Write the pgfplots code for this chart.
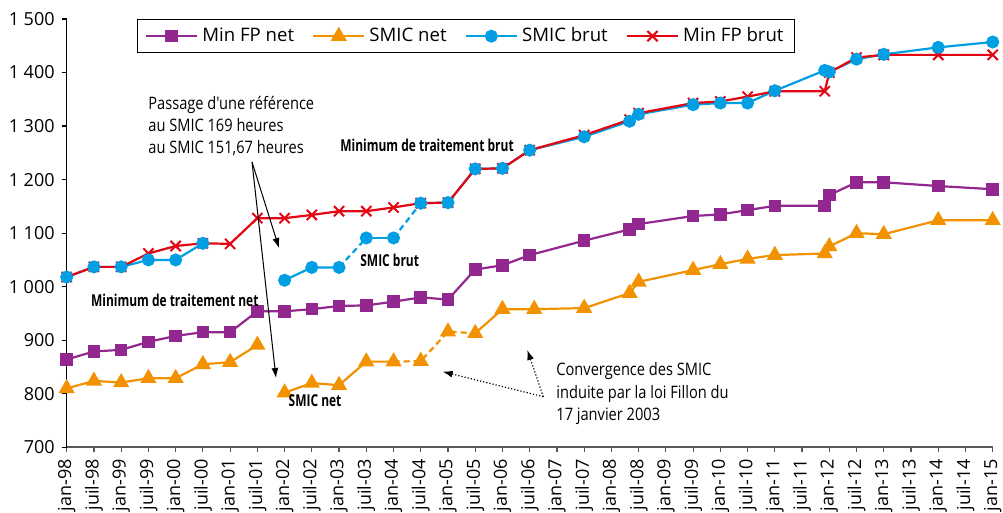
\documentclass[border=0pt]{standalone}
\usepackage{pgfplots}
\pgfplotsset{compat=1.18}
\usepackage{pgfplotstable}
\usepackage{fontspec}
\usetikzlibrary{arrows.meta}
\setmainfont{Open Sans}
\newfontfamily\cond[FakeStretch=0.85]{Open Sans}
\newfontfamily\condb[FakeStretch=0.73]{Open Sans}

\definecolor{cpurple}{RGB}{146,39,143}
\definecolor{corange}{RGB}{243,146,0}
\definecolor{cblue}{RGB}{0,159,227}
\definecolor{cred}{RGB}{227,6,19}

% month index: 0 = jan-98
\pgfplotstableread{
m v
0 864
6 879
12 882
18 897
24 908
30 915
36 915
42 954
48 954
54 958
60 964
66 965
72 972
78 980
84 976
90 1032
96 1040
102 1059
114 1086
124 1107
126 1117
138 1132
144 1135
150 1143
156 1151
167 1151
168 1171
174 1195
180 1195
192 1188
204 1182
}\minnet

\pgfplotstableread{
m v
0 810
6 824
12 821
18 829
24 829
30 855
36 859
42 891
48 802
54 820
60 816
66 860
72 860
78 861
84 916
90 913
96 958
103 958
114 960
124 988
126 1009
138 1031
144 1042
150 1052
156 1059
167 1062
168 1075
174 1100
180 1098
192 1124
204 1124
}\smicnet

\pgfplotstableread{
m v
0 1018
6 1037
12 1037
18 1050
24 1050
30 1081
48 1012
54 1036
60 1036
66 1091
72 1091
78 1156
84 1157
90 1220
96 1221
102 1255
114 1280
124 1309
126 1322
138 1340
144 1343
150 1343
156 1366
167 1404
168 1401
174 1425
180 1434
192 1447
204 1457
}\smicbrut

\pgfplotstableread{
m v
0 1018
6 1037
12 1037
18 1062
24 1076
30 1081
36 1080
42 1128
48 1128
54 1134
60 1141
66 1141
72 1148
78 1156
84 1157
90 1220
96 1221
102 1255
114 1283
124 1312
126 1324
138 1343
144 1346
150 1355
156 1365
167 1365
168 1400
174 1428
180 1433
192 1433
204 1433
}\minbrut

\begin{document}
\begin{tikzpicture}
\useasboundingbox (-33.35pt,-32.85pt) rectangle (468.15pt,223.65pt);
\begin{axis}[
  scale only axis, width=463pt, height=214.15pt,
  xmin=0, xmax=204, ymin=700, ymax=1500,
  axis x line*=bottom, axis y line*=left,
  x axis line style={black!65, line width=0.8pt},
  y axis line style={black, line width=0.6pt},
  tick align=outside, major tick length=2.5pt,
  xtick={0,6,...,204},
  xticklabels={jan-98,juil-98,jan-99,juil-99,jan-00,juil-00,jan-01,juil-01,jan-02,juil-02,jan-03,juil-03,jan-04,juil-04,jan-05,juil-05,jan-06,juil-06,jan-07,juil-07,jan-08,juil-08,jan-09,juil-09,jan-10,juil-10,jan-11,juil-11,jan-12,juil-12,jan-13,juil-13,jan-14,juil-14,jan-15},
  xticklabel style={rotate=90, anchor=east, font=\fontsize{9}{10}\selectfont},
  x tick style={black!65, line width=0.6pt},
  ytick={700,800,...,1500},
  yticklabel style={font=\fontsize{9}{10}\selectfont},
  y tick style={black, line width=0.6pt},
  /pgf/number format/assume math mode=true,
  /pgf/number format/1000 sep={\ },
  legend columns=4,
  legend style={at={(rel axis cs:0.0762,1)}, anchor=north west, draw=black, line width=0.6pt,
    font=\fontsize{9.3}{11}\selectfont, inner xsep=3.5pt, inner ysep=2pt,
    /tikz/every even column/.append style={column sep=7pt}},
  legend image code/.code={\draw[mark repeat=2,mark phase=2] plot coordinates {(0cm,0cm) (0.45cm,0cm) (0.9cm,0cm)};},
  every axis plot/.append style={line width=1.1pt},
]
\addlegendimage{cpurple, mark=square*, mark size=2.6pt}
\addlegendentry{Min FP net}
\addlegendimage{corange, mark=triangle*, mark size=3.6pt}
\addlegendentry{SMIC net}
\addlegendimage{cblue, mark=*, mark size=2.7pt}
\addlegendentry{SMIC brut}
\addlegendimage{cred, mark=x, mark size=3.6pt, mark options={line width=1pt}}
\addlegendentry{Min FP brut}

% Min FP net
\addplot[cpurple, mark=square*, mark size=2.6pt, forget plot] table[x=m,y=v] {\minnet};
% SMIC net: lines by piece, then marks
\addplot[corange, forget plot, restrict x to domain=0:42] table[x=m,y=v] {\smicnet};
\addplot[corange, forget plot, restrict x to domain=48:72] table[x=m,y=v] {\smicnet};
\addplot[corange, forget plot, dash pattern=on 3pt off 2pt, restrict x to domain=72:90] table[x=m,y=v] {\smicnet};
\addplot[corange, forget plot, restrict x to domain=90:204] table[x=m,y=v] {\smicnet};
\addplot[corange, only marks, mark=triangle*, mark size=3.6pt, forget plot] table[x=m,y=v] {\smicnet};
% SMIC brut lines
\addplot[cblue, forget plot, restrict x to domain=0:30] table[x=m,y=v] {\smicbrut};
\addplot[cblue, forget plot, restrict x to domain=48:60] table[x=m,y=v] {\smicbrut};
\addplot[cblue, forget plot, dash pattern=on 3pt off 2pt, restrict x to domain=60:66] table[x=m,y=v] {\smicbrut};
\addplot[cblue, forget plot, restrict x to domain=66:72] table[x=m,y=v] {\smicbrut};
\addplot[cblue, forget plot, dash pattern=on 3pt off 2pt, restrict x to domain=72:78] table[x=m,y=v] {\smicbrut};
\addplot[cblue, forget plot, restrict x to domain=78:204] table[x=m,y=v] {\smicbrut};
% Min FP brut
\addplot[cred, mark=x, mark size=3.6pt, mark options={line width=1pt}, forget plot] table[x=m,y=v] {\minbrut};
% SMIC brut marks on top
\addplot[cblue, only marks, mark=*, mark size=2.7pt, forget plot] table[x=m,y=v] {\smicbrut};
\end{axis}

\begin{scope}[shift={(-33.35pt,223.65pt)}, x=0.5pt, y=-0.5pt]
  \def\annfont{\cond\fontsize{8.6}{10}\selectfont}
  \def\lblfont{\condb\bfseries\fontsize{8.2}{10}\selectfont}
  \node[anchor=base west, inner sep=0pt, font=\annfont] at (148,110) {Passage d'une référence};
  \node[anchor=base west, inner sep=0pt, font=\annfont] at (148,132) {au SMIC 169 heures};
  \node[anchor=base west, inner sep=0pt, font=\annfont] at (148,154) {au SMIC 151,67 heures};
  \draw[line width=0.5pt, -{Latex[length=5pt,width=3.5pt]}] (252,162) -- (279,248);
  \draw[line width=0.5pt, -{Latex[length=5pt,width=3.5pt]}] (252,162) -- (276,378);
  \node[anchor=base west, inner sep=0pt, font=\lblfont] at (340,151.7) {Minimum de traitement brut};
  \node[anchor=base west, inner sep=0pt, font=\lblfont] at (360,266.7) {SMIC brut};
  \node[anchor=base west, inner sep=0pt, font=\lblfont] at (90.7,306.7) {Minimum de traitement net};
  \node[anchor=base west, inner sep=0pt, font=\lblfont] at (288.3,406.7) {SMIC net};
  \node[anchor=base west, inner sep=0pt, font=\annfont] at (556,376) {Convergence des SMIC};
  \node[anchor=base west, inner sep=0pt, font=\annfont] at (556,398.3) {induite par la loi Fillon du};
  \node[anchor=base west, inner sep=0pt, font=\annfont] at (556,420.7) {17 janvier 2003};
  \draw[line width=0.6pt, densely dotted, -{Latex[length=5pt,width=3.5pt]}] (543.3,396.7) -- (442.7,371.7);
  \draw[line width=0.6pt, densely dotted, -{Latex[length=5pt,width=3.5pt]}] (543.3,396.7) -- (527.3,350);
\end{scope}
\end{tikzpicture}
\end{document}
